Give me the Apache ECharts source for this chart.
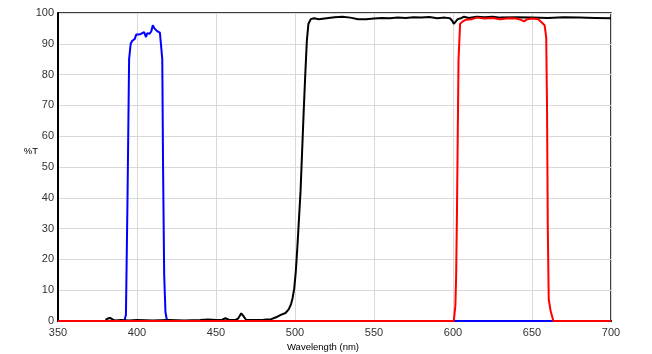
<!DOCTYPE html>
<html>
<head>
<meta charset="utf-8">
<script src="https://cdn.jsdelivr.net/npm/echarts@6/dist/echarts.min.js"></script>
<style>html,body{margin:0;padding:0;background:#fff}#c{width:652px;height:354px}</style>
</head>
<body>
<div id="c"></div>
<script>
const xTicks = [350, 400, 450, 500, 550, 600, 650, 700];
const yTicks = [0, 10, 20, 30, 40, 50, 60, 70, 80, 90, 100];
const xTitle = 'Wavelength (nm)';
const yTitle = '%T';

const blueSeries = [[350,0],[392,0],[393,2],[394,40],[395,85],[396,90],[397,91],[398.5,91.5],[399.5,93],[401,93],[402.5,93.2],[403.5,93],[404.5,93.8],[405.7,92.2],[406.5,93.4],[408,93.3],[409,94],[410,96],[411,95],[412,94.5],[413,94],[414.5,93.6],[415.5,93],[416,85],[416.5,50],[417.2,15],[418,3],[419,0],[700,0]];

const blackSeries = [[380,0.4],[381.5,0.8],[383,1],[384.5,0.5],[386,0.2],[390,0.3],[395,0.2],[400,0.3],[410,0.2],[420,0.3],[430,0.2],[440,0.3],[445,0.5],[450,0.3],[454,0.4],[456,0.9],[458,0.4],[462,0.3],[464,0.8],[466,2.5],[467.5,1.5],[469,0.4],[475,0.3],[480,0.4],[485,0.6],[488,1.2],[491,2],[494,2.6],[496,3.8],[497.5,5.5],[498.5,7.5],[499.5,10.5],[500.5,16],[501.5,24],[502.5,33],[503.5,42],[504.5,55],[505.5,68],[506.5,80],[507.5,91],[508.5,96.5],[510,98],[512,98.3],[515,98],[520,98.3],[525,98.6],[530,98.8],[535,98.5],[540,98],[545,98],[550,98.2],[555,98.4],[560,98.3],[565,98.5],[570,98.4],[575,98.6],[580,98.5],[585,98.7],[590,98.3],[595,98.5],[598,98.3],[599.5,97.5],[600.5,96.5],[601.5,97],[603,98],[605,98.3],[607,98.8],[610,98.4],[615,98.8],[620,98.6],[625,98.8],[630,98.5],[640,98.6],[650,98.5],[660,98.4],[670,98.6],[680,98.5],[690,98.4],[700,98.3]];

const redSeries = [[350,0],[600.5,0],[601.5,5],[602,15],[602.5,35],[603,60],[603.5,85],[604.5,96.5],[606,97.2],[608,97.8],[612,98],[615,98.5],[620,98.2],[625,98.4],[630,98],[635,98.3],[640,98.2],[643,97.8],[645,97.3],[647,98],[650,98.2],[654,98],[656,97],[658,96],[659,92],[659.5,70],[660,30],[660.6,7],[661.7,3.5],[663.5,0],[700,0]];

const chart = echarts.init(document.getElementById('c'), null, {renderer: 'canvas'});
const FONT = 'Liberation Sans, Arial, sans-serif';
const lbl = {color: '#333', fontSize: 11, fontFamily: FONT};
chart.setOption({
  animation: false,
  grid: {left: 58, right: 41, top: 13, bottom: 33, show: true, borderColor: '#000', borderWidth: 1.5, containLabel: false},
  xAxis: {
    type: 'value', min: xTicks[0], max: xTicks[xTicks.length-1], interval: 50,
    axisLine: {show: true, lineStyle: {color: '#000', width: 2}},
    axisTick: {show: false},
    axisLabel: Object.assign({margin: 6}, lbl),
    splitLine: {show: true, lineStyle: {color: '#d9d9d9', width: 1}}
  },
  yAxis: {
    type: 'value', min: yTicks[0], max: yTicks[yTicks.length-1], interval: 10,
    axisLine: {show: true, lineStyle: {color: '#000', width: 2}},
    axisTick: {show: false},
    axisLabel: Object.assign({margin: 4}, lbl),
    splitLine: {show: true, lineStyle: {color: '#d9d9d9', width: 1}}
  },
  graphic: [
    {type: 'text', x: 323, y: 347, style: {text: xTitle, fill: '#000', font: '9.5px ' + FONT, textAlign: 'center', textVerticalAlign: 'middle'}},
    {type: 'text', x: 38, y: 151, style: {text: yTitle, fill: '#000', font: '9.5px ' + FONT, textAlign: 'right', textVerticalAlign: 'middle'}}
  ],
  series: [
    {type: 'line', data: blueSeries, showSymbol: false, lineStyle: {color: '#0000ff', width: 2}, z: 2},
    {type: 'line', data: blackSeries, showSymbol: false, lineStyle: {color: '#000000', width: 2}, z: 3},
    {type: 'line', data: redSeries, showSymbol: false, lineStyle: {color: '#ff0000', width: 2}, z: 4}
  ]
});
</script>
</body>
</html>
